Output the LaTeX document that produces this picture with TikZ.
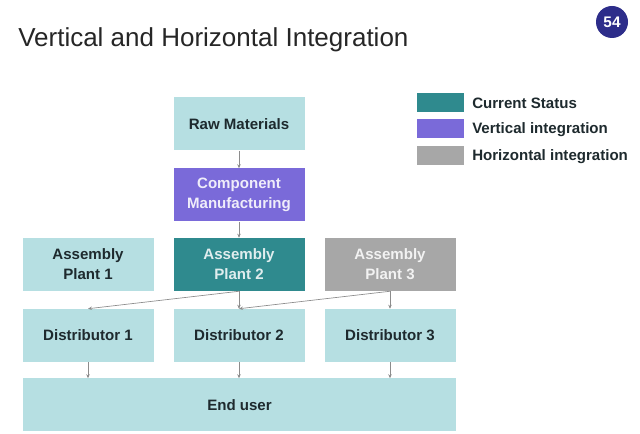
\documentclass[tikz,border=0pt]{standalone}
\usepackage{fontspec}
\setmainfont{Liberation Sans}
\usetikzlibrary{arrows.meta}
\definecolor{lightbox}{HTML}{B6DFE2}
\definecolor{tealbox}{HTML}{2F8A8E}
\definecolor{purplebox}{HTML}{7A6AD9}
\definecolor{greybox}{HTML}{A7A7A7}
\definecolor{navybadge}{HTML}{2D2D8A}
\definecolor{arrowgrey}{HTML}{8C8C8C}
\definecolor{textdark}{HTML}{1E2A2E}
\tikzset{
  box/.style={rectangle, draw=none, minimum width=131*0.75pt, minimum height=53*0.75pt, align=center, inner sep=0pt, font=\bfseries\fontsize{11.3}{15}\selectfont},
  lightb/.style={box, fill=lightbox, text=textdark},
  tealb/.style={box, fill=tealbox, text=white!85!tealbox},
  purpleb/.style={box, fill=purplebox, text=white!88!purplebox},
  greyb/.style={box, fill=greybox, text=white!85!greybox},
  conn/.style={draw=arrowgrey, line width=0.5pt, -{Stealth[length=3pt,width=2.6pt]}},
  legsq/.style={rectangle, minimum width=47*0.75pt, minimum height=19*0.75pt, inner sep=0pt},
  legtext/.style={anchor=west, font=\bfseries\fontsize{11.3}{13}\selectfont, text=textdark, inner sep=0pt},
}
\begin{document}
\begin{tikzpicture}[x=0.75pt,y=-0.75pt]
\useasboundingbox[fill=white] (0,0) rectangle (640,434);
% title
\node[anchor=west, inner sep=0pt, font=\fontsize{19.5}{23}\selectfont, text=black!85] (title) at (18,40) {Vertical and Horizontal Integration};
\node[circle, fill=navybadge, minimum size=32*0.75pt, inner sep=0pt, text=white, font=\bfseries\fontsize{11.5}{13}\selectfont] (badge) at (612,22) {54};
% boxes
\node[lightb] (raw) at (239,124) {Raw Materials};
\node[purpleb] (comp) at (239,195) {Component\\Manufacturing};
\node[lightb] (ap1) at (88,264.5) {Assembly\\Plant 1};
\node[tealb] (ap2) at (239,264.5) {Assembly\\Plant 2};
\node[greyb] (ap3) at (390,264.5) {Assembly\\Plant 3};
\node[lightb] (d1) at (88,335.5) {Distributor 1};
\node[lightb] (d2) at (239,335.5) {Distributor 2};
\node[lightb] (d3) at (390,335.5) {Distributor 3};
\node[lightb, minimum width=433*0.75pt] (end) at (239.5,405) {End user};
% legend
\node[legsq, fill=tealbox] (l1) at (440.5,103) {};
\node[legsq, fill=purplebox] (l2) at (440.5,129) {};
\node[legsq, fill=greybox] (l3) at (440.5,156) {};
\node[legtext] (t1) at (472,103) {Current Status};
\node[legtext] (t2) at (472,130) {Vertical integration};
\node[legtext] (t3) at (472,156.5) {Horizontal integration};
% connectors
\draw[conn] (raw.south) -- (comp.north);
\draw[conn] (comp.south) -- (ap2.north);
\draw[conn] (ap2.south) -- (d1.north);
\draw[conn] (ap2.south) -- (d2.north);
\draw[conn] (ap3.south) -- (d2.north);
\draw[conn] (ap3.south) -- (d3.north);
\draw[conn] (d1.south) -- (d1.south |- end.north);
\draw[conn] (d2.south) -- (d2.south |- end.north);
\draw[conn] (d3.south) -- (d3.south |- end.north);
\end{tikzpicture}
\end{document}
